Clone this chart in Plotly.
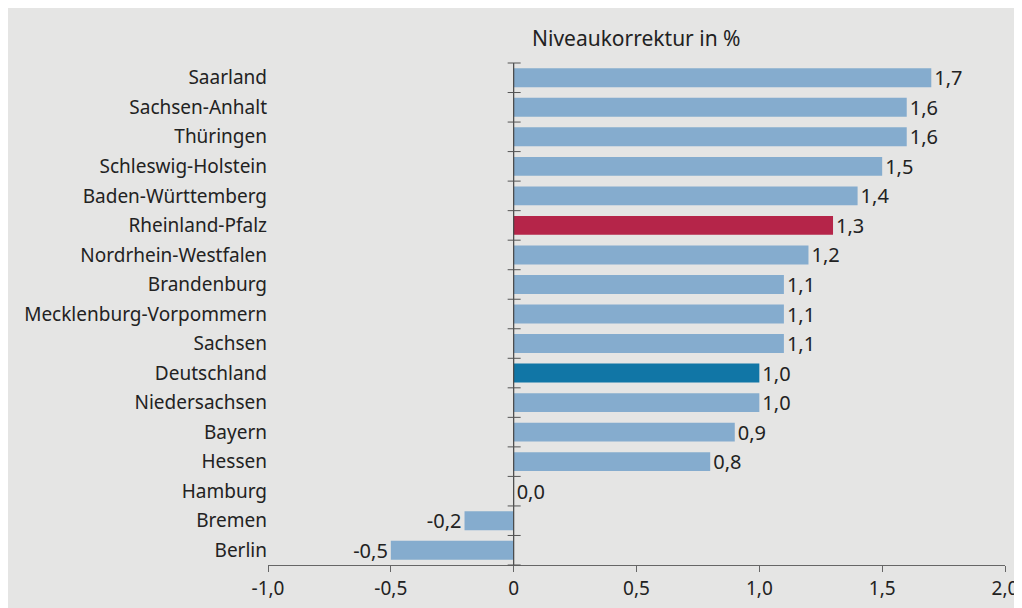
import plotly.graph_objects as go

categories = ["Saarland", "Sachsen-Anhalt", "Thüringen", "Schleswig-Holstein",
              "Baden-Württemberg", "Rheinland-Pfalz", "Nordrhein-Westfalen",
              "Brandenburg", "Mecklenburg-Vorpommern", "Sachsen", "Deutschland",
              "Niedersachsen", "Bayern", "Hessen", "Hamburg", "Bremen", "Berlin"]
values = [1.7, 1.6, 1.6, 1.5, 1.4, 1.3, 1.2, 1.1, 1.1, 1.1, 1.0, 1.0, 0.9, 0.8, 0.0, -0.2, -0.5]
highlight = {"Rheinland-Pfalz": "#B52549", "Deutschland": "#1176A6"}
base_color = "#85ACCE"

x_tickvals = [-1.0, -0.5, 0, 0.5, 1.0, 1.5, 2.0]
x_ticktext = ["-1,0", "-0,5", "0", "0,5", "1,0", "1,5", "2,0"]
title_text = "Niveaukorrektur in %"

colors = [highlight.get(c, base_color) for c in categories]
labels = [f"{v:.1f}".replace(".", ",") for v in values]

FONT = "Noto Sans, Open Sans, sans-serif"
TXT = "#222222"
AXC = "#666666"

fig = go.Figure(go.Bar(
    y=categories, x=values, orientation="h",
    marker=dict(color=colors, line=dict(width=0)),
    text=labels, textposition="outside", cliponaxis=False,
    constraintext="none",
    textfont=dict(family=FONT, size=20, color=TXT),
    width=0.64,
))

OFF = 8  # default page body margin
W, H = 1022 - OFF, 608 - OFF
L, R, T, B = 268 - OFF, W - (1005 - OFF), 63 - OFF, H - (565 - OFF)
pw, ph = W - L - R, H - T - B

shapes = []
# zero line
shapes.append(dict(type="line", xref="x", yref="paper", x0=0, x1=0, y0=0, y1=1,
                   line=dict(color="#444444", width=1.2), layer="above"))
# tick marks at category boundaries crossing the zero line
n = len(categories)
zero_px = pw / 3.0
for i in range(n + 1):
    yf = i / n
    shapes.append(dict(type="line", xref="paper", yref="paper",
                       x0=(zero_px - 6) / pw, x1=(zero_px + 7) / pw, y0=yf, y1=yf,
                       line=dict(color="#555555", width=1), layer="above"))

fig.update_layout(
    width=W, height=H,
    margin=dict(l=L, r=R, t=T, b=B, pad=0, autoexpand=False),
    paper_bgcolor="#E5E5E4", plot_bgcolor="rgba(0,0,0,0)",
    showlegend=False,
    shapes=shapes,
    font=dict(family=FONT, color=TXT),
    bargap=0.35,
    annotations=[dict(text=title_text, xref="paper", yref="paper", x=0.5,
                      y=(H - (38 - OFF) - B) / ph,
                      xanchor="center", yanchor="middle", showarrow=False,
                      font=dict(family=FONT, size=21, color=TXT))],
    xaxis=dict(range=[-1.0, 2.0], tickvals=x_tickvals, ticktext=x_ticktext,
               automargin=False,
               showgrid=False, zeroline=False, showline=True, linecolor=AXC, linewidth=1.2,
               ticks="outside", ticklen=6, tickcolor=AXC, tickwidth=1.2,
               tickfont=dict(family=FONT, size=19, color=TXT)),
    yaxis=dict(categoryorder="array", categoryarray=categories[::-1],
               automargin=False,
               showgrid=False, zeroline=False, showline=False, ticks="",
               tickfont=dict(family=FONT, size=19, color=TXT), ticklabelstandoff=0),
)

fig.write_html("out.html", config={"displayModeBar": False},
               post_script="document.documentElement.style.overflow='hidden';"
                           "document.body.style.overflow='hidden';")
